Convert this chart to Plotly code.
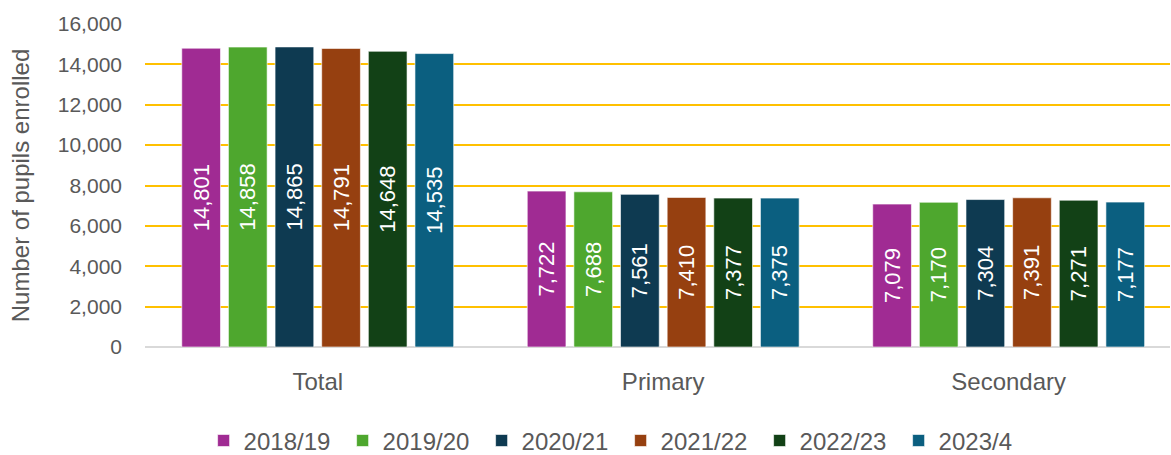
import plotly.graph_objects as go

categories = ["Total", "Primary", "Secondary"]
years = ["2018/19", "2019/20", "2020/21", "2021/22", "2022/23", "2023/4"]
values = {
    "2018/19": [14801, 7722, 7079],
    "2019/20": [14858, 7688, 7170],
    "2020/21": [14865, 7561, 7304],
    "2021/22": [14791, 7410, 7391],
    "2022/23": [14648, 7377, 7271],
    "2023/4": [14535, 7375, 7177],
}
colors = ["#A02B93", "#4EA72E", "#0E3A51", "#964010", "#124116", "#0B5F80"]

FONT = "Liberation Sans, Arial, sans-serif"

fig = go.Figure()
for y, c in zip(years, colors):
    fig.add_trace(go.Bar(
        name=y, x=categories, y=values[y],
        marker=dict(color=c, line=dict(color="rgba(255,255,255,0.6)", width=1)),
        text=[f"{v:,}" for v in values[y]],
        textposition="inside", insidetextanchor="middle", textangle=-90,
        constraintext="none",
        textfont=dict(color="white", size=22, family=FONT),
    ))

fig.update_layout(
    barmode="group", bargap=0.19, bargroupgap=0.17,
    width=1171, height=455,
    margin=dict(l=145, r=1, t=24, b=108, autoexpand=False),
    plot_bgcolor="white", paper_bgcolor="white",
    font=dict(family=FONT, color="#595959", size=21),
    legend=dict(orientation="h", x=0.464, xanchor="center",
                yref="container", y=0.031, yanchor="middle",
                font=dict(size=24, color="#595959", family=FONT),
                traceorder="normal", itemwidth=30,
                entrywidth=94, entrywidthmode="pixels"),
    yaxis=dict(range=[0, 16000], dtick=2000, tickformat=",", gridcolor="#FFC000", gridwidth=2,
               zeroline=True, zerolinecolor="#D9D9D9", zerolinewidth=2,
               title=dict(text="Number of pupils enrolled", font=dict(size=24, color="#595959"), standoff=21),
               tickfont=dict(size=21, color="#595959"), ticks="", ticklabelstandoff=22,
               automargin=False),
    xaxis=dict(range=[-0.5, 2.467], tickfont=dict(size=24, color="#595959"), showline=False, ticks="",
               ticklabelstandoff=18, automargin=False),
    uniformtext=dict(mode=False),
)
fig.write_html("out.html", config={"displayModeBar": False},
               post_script="document.body.style.margin='0';document.body.style.overflow='hidden';")
